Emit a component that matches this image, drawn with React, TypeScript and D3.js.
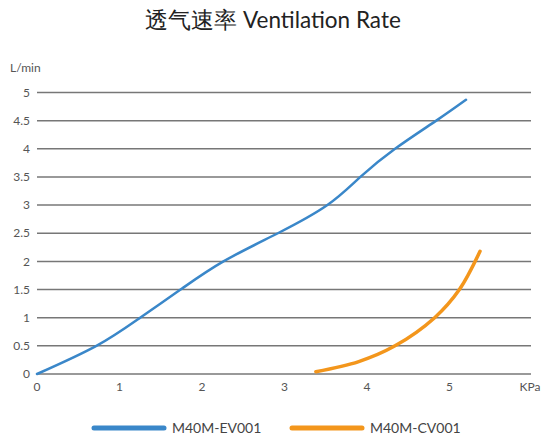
import React from "react";
import * as d3 from "d3";

const title = "透气速率 Ventilation Rate";
const yTicks = [0, 0.5, 1, 1.5, 2, 2.5, 3, 3.5, 4, 4.5, 5];
const yTickLabels = ["0", "0.5", "1", "1.5", "2", "2.5", "3", "3.5", "4", "4.5", "5"];
const xTicks = [0, 1, 2, 3, 4, 5];
const xTickLabels = ["0", "1", "2", "3", "4", "5"];
const seriesNames = ["M40M-EV001", "M40M-CV001"];
const seriesColors = ["#3a87c9", "#f3961c"];
const evX = [0, 0.72, 1.25, 1.74, 2.26, 2.92, 3.52, 3.92, 4.34, 4.84, 5.2];
const evY = [0, 0.5, 1, 1.5, 2, 2.5, 3, 3.5, 4, 4.5, 4.87];
const cvX = [3.38, 3.9, 4.34, 4.82, 5.12, 5.37];
const cvY = [0.04, 0.22, 0.5, 1.0, 1.5, 2.18];

const W = 541;
const H = 437;
const font = "Lato, 'Open Sans', sans-serif";

export default function App() {
  const x = d3.scaleLinear().domain([0, 5]).range([37, 449.5]);
  const y = d3.scaleLinear().domain([0, 5]).range([374, 92.5]);
  const lineEv = d3
    .line<[number, number]>()
    .x((d) => x(d[0]))
    .y((d) => y(d[1]))
    .curve(d3.curveNatural);
  const lineCv = d3
    .line<[number, number]>()
    .x((d) => x(d[0]))
    .y((d) => y(d[1]))
    .curve(d3.curveCatmullRom.alpha(0.5));
  const ev = evX.map((v, i) => [v, evY[i]] as [number, number]);
  const cv = cvX.map((v, i) => [v, cvY[i]] as [number, number]);
  const gridRight = 531;

  return (
    <svg
      width={W}
      height={H}
      style={{ position: "absolute", left: 0, top: 0, background: "#fff" }}
      fontFamily={font}
    >
      <text x={273} y={28} textAnchor="middle" fontSize={22.5} fill="#222">
        {title}
      </text>
      <text x={10} y={72} fontSize={12} fill="#555">
        L/min
      </text>
      {yTicks.map((t, i) => (
        <g key={t}>
          <line
            x1={x(0)}
            x2={gridRight}
            y1={y(t)}
            y2={y(t)}
            stroke="#777"
            strokeWidth={1.5}
          />
          <text
            x={30}
            y={y(t)}
            dy="0.35em"
            textAnchor="end"
            fontSize={12}
            fill="#555"
          >
            {yTickLabels[i]}
          </text>
        </g>
      ))}
      {xTicks.map((t, i) => (
        <text
          key={t}
          x={x(t)}
          y={y(0) + 17}
          textAnchor="middle"
          fontSize={12}
          fill="#555"
        >
          {xTickLabels[i]}
        </text>
      ))}
      <text x={530} y={y(0) + 17} textAnchor="middle" fontSize={12} fill="#555">
        KPa
      </text>
      <path
        d={lineEv(ev) || ""}
        fill="none"
        stroke={seriesColors[0]}
        strokeWidth={2.5}
        strokeLinecap="round"
      />
      <path
        d={lineCv(cv) || ""}
        fill="none"
        stroke={seriesColors[1]}
        strokeWidth={3.5}
        strokeLinecap="round"
      />
      {seriesNames.map((n, i) => {
        const lx = [94, 292][i];
        return (
          <g key={n}>
            <line
              x1={lx}
              x2={lx + 70}
              y1={428}
              y2={428}
              stroke={seriesColors[i]}
              strokeWidth={5}
              strokeLinecap="round"
            />
            <text x={lx + 78} y={428} dy="0.35em" fontSize={14} fill="#444">
              {n}
            </text>
          </g>
        );
      })}
    </svg>
  );
}
